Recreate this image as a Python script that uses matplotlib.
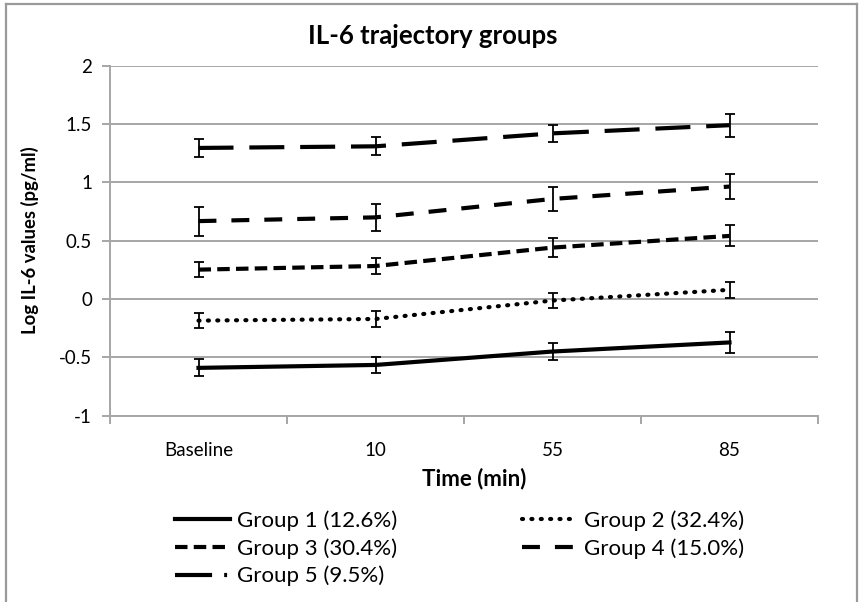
import matplotlib
matplotlib.use("Agg")
import matplotlib.pyplot as plt
from matplotlib.lines import Line2D
import numpy as np

plt.rcParams['font.family'] = ['Lato', 'DejaVu Sans']

categories = ["Baseline", "10", "55", "85"]
labels = ["Group 1 (12.6%)", "Group 2 (32.4%)", "Group 3 (30.4%)",
          "Group 4 (15.0%)", "Group 5 (9.5%)"]
g1 = [-0.59, -0.565, -0.45, -0.372]
g2 = [-0.185, -0.171, -0.013, 0.079]
g3 = [0.252, 0.283, 0.441, 0.541]
g4 = [0.668, 0.70, 0.858, 0.964]
g5 = [1.295, 1.309, 1.42, 1.49]
e1 = [0.073, 0.072, 0.075, 0.089]
e2 = [0.066, 0.065, 0.062, 0.066]
e3 = [0.067, 0.069, 0.079, 0.09]
e4 = [0.124, 0.118, 0.105, 0.11]
e5 = [0.08, 0.076, 0.072, 0.098]

series = [g1, g2, g3, g4, g5]
errors = [e1, e2, e3, e4, e5]

W, H = 860, 602
lw = 3.0
styles = [
    dict(linestyle='-'),
    dict(linestyle=(0, (0.25, 2.0)), dash_capstyle='round'),
    dict(linestyle=(0, (3.0, 1.5))),
    dict(linestyle=(0, (4.3, 3.6))),
    dict(linestyle=(0, (8.4, 3.8))),
]

fig = plt.figure(figsize=(W/100, H/100), dpi=100)
ax = fig.add_axes([110/W, 1-415.7/H, 708/W, 350/H])

x = np.arange(len(categories))
grid_c = '#a6a6a6'

for s, e, st in zip(series, errors, styles):
    ax.errorbar(x, s, yerr=e, fmt='none', ecolor='black', elinewidth=1.3,
                capsize=3.4, capthick=1.3, zorder=3)
    ax.plot(x, s, color='black', lw=lw, zorder=4, **st)

ax.set_xlim(-0.5, 3.5)
ax.set_ylim(-1, 2)
ax.set_yticks([-1, -0.5, 0, 0.5, 1, 1.5, 2])
ax.set_yticklabels(['-1', '-0.5', '0', '0.5', '1', '1.5', '2'])
ax.yaxis.grid(True, color=grid_c, lw=1.4)
ax.set_axisbelow(True)
ax.set_xticks(x)
ax.set_xticklabels(categories)
ax.set_xticks(np.arange(-0.5, 4.0, 1.0), minor=True)
ax.tick_params(axis='x', which='major', length=0, pad=19, labelsize=13.5)
ax.tick_params(axis='x', which='minor', length=6, width=1.4, color=grid_c, direction='out')
ax.tick_params(axis='y', length=6, width=1.4, color=grid_c, labelsize=13.5, pad=7)
for sp in ['top', 'right']:
    ax.spines[sp].set_visible(False)
for sp in ['left', 'bottom']:
    ax.spines[sp].set_color(grid_c)
    ax.spines[sp].set_linewidth(1.4)

fig.text(474.5/W, 1-479/H, "Time (min)", ha='center', va='center',
         fontsize=16, fontweight='bold')
fig.text(30/W, 1-240/H, "Log IL-6 values (pg/ml)", ha='center', va='center',
         rotation=90, fontsize=13.3, fontweight='bold')
fig.text(432.5/W, 1-44.3/H, "IL-6 trajectory groups", ha='center', va='baseline',
         fontsize=18.5, fontweight='bold')

# legend (row-major order as in reference: G1 G2 / G3 G4 / G5)
handles = []
for st in styles:
    handles.append(Line2D([0], [0], color='black', lw=lw, **st))
handles[4] = Line2D([0], [0], color='black', lw=lw, linestyle=(0, (8.9, 2.9, 0.7, 10)))
order = [0, 2, 4, 1, 3]
leg = fig.legend([handles[i] for i in order], [labels[i] for i in order],
                 loc='upper left', bbox_to_anchor=(175/W, 1-510/H), ncol=2,
                 frameon=False, fontsize=16, handlelength=2.48, handletextpad=0.31,
                 columnspacing=5.6, labelspacing=0.33, borderaxespad=0,
                 borderpad=0)

# outer chart border (left, top, right)
bc = '#9a9a9a'
fig.add_artist(Line2D([5.5/W, 5.5/W], [0, 1-3.5/H], color=bc, lw=1.6, transform=fig.transFigure))
fig.add_artist(Line2D([5.5/W, 857/W], [1-3.5/H, 1-3.5/H], color=bc, lw=1.6, transform=fig.transFigure))
fig.add_artist(Line2D([857/W, 857/W], [0, 1-3.5/H], color=bc, lw=1.6, transform=fig.transFigure))

fig.savefig("out.png", dpi=100)
